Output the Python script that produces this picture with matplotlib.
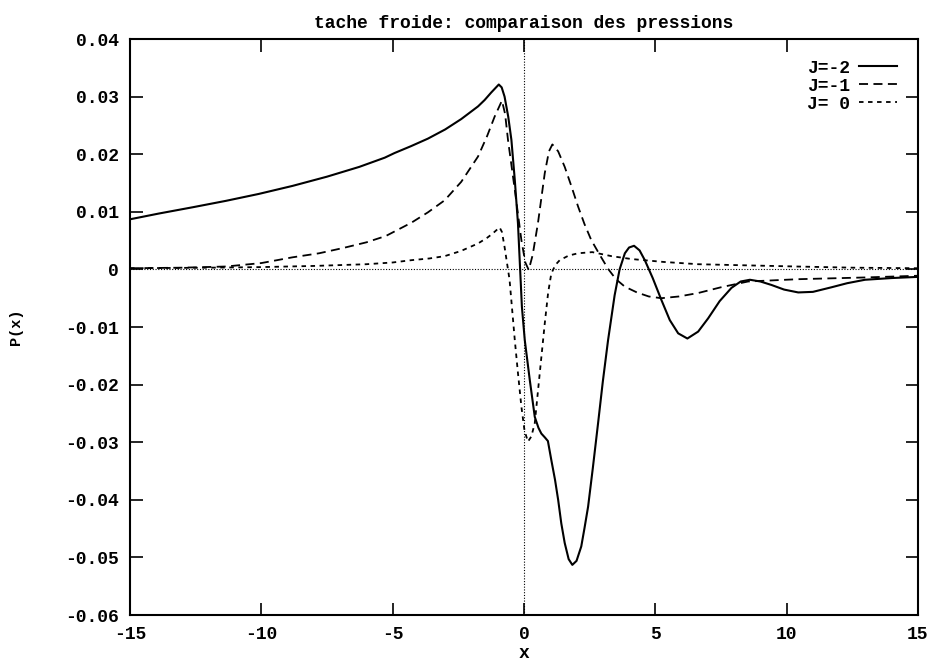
import matplotlib
matplotlib.use('Agg')
import matplotlib.pyplot as plt

# J=-2 (trait plein)
x_j2 = [-15, -13.9, -12.6, -11.35, -10.1, -8.81, -7.5, -6.27, -5.3, -4.93, -4.3, -3.66, -3.0, -2.39,
        -1.75, -1.50, -1.25, -0.96, -0.85, -0.74, -0.60, -0.48, -0.35, -0.23, -0.08, 0.03, 0.22,
        0.41, 0.55, 0.66, 0.80, 0.91, 1.04, 1.18, 1.30, 1.42, 1.55, 1.70, 1.84, 2.00, 2.18, 2.30,
        2.44, 2.62, 2.82, 3.00, 3.20, 3.45, 3.64, 3.84, 4.00, 4.19, 4.40, 4.60, 4.90, 5.23, 5.55,
        5.87, 6.22, 6.63, 7.01, 7.45, 7.90, 8.25, 8.60, 9.00, 9.42, 9.90, 10.44, 11.00, 11.71,
        12.30, 12.98, 14.0, 15]
y_j2 = [0.0087, 0.0097, 0.0108, 0.0119, 0.0131, 0.0145, 0.0161, 0.0178, 0.0194, 0.0202, 0.0214,
        0.0227, 0.0243, 0.0261, 0.0283, 0.0294, 0.0307, 0.0321, 0.0316, 0.0300, 0.0265, 0.0225,
        0.0155, 0.0080, -0.0065, -0.0123, -0.0192, -0.0256, -0.0275, -0.0285, -0.0292, -0.0298,
        -0.0331, -0.0365, -0.0400, -0.0441, -0.0475, -0.0503, -0.0513, -0.0506, -0.0481, -0.0450,
        -0.0412, -0.0345, -0.0267, -0.0195, -0.0123, -0.0045, 0.0000, 0.0028, 0.0038, 0.0041,
        0.0033, 0.0016, -0.0015, -0.0053, -0.0088, -0.0111, -0.0120, -0.0108, -0.0085, -0.0055,
        -0.0032, -0.0021, -0.0018, -0.0021, -0.0027, -0.0035, -0.0040, -0.0039, -0.0031, -0.0024,
        -0.0018, -0.0015, -0.0013]

# J=-1 (tirets)
x_j1 = [-15, -13, -11.35, -10, -8.81, -7.8, -6.9, -6.0, -5.26, -4.29, -3.66, -3.02, -2.39, -1.75,
        -1.40, -1.12, -0.84, -0.72, -0.61, -0.35, -0.10, 0.05, 0.18, 0.33, 0.53, 0.79, 0.95, 1.08,
        1.30, 1.55, 1.80, 2.06, 2.30, 2.56, 2.90, 3.20, 3.50, 3.84, 4.30, 4.75, 5.23, 5.90, 6.63,
        7.50, 8.53, 10.44, 12.98, 15]
y_j1 = [0.0002, 0.0003, 0.0005, 0.0011, 0.0021, 0.0028, 0.0037, 0.0047, 0.0058, 0.0081, 0.0099,
        0.0120, 0.0152, 0.0196, 0.0232, 0.0265, 0.0293, 0.0270, 0.0225, 0.0138, 0.0051, 0.0012,
        -0.0001, 0.0025, 0.0080, 0.0167, 0.0205, 0.0217, 0.0205, 0.0178, 0.0145, 0.0109, 0.0079,
        0.0051, 0.0024, 0.0001, -0.0017, -0.0030, -0.0040, -0.0047, -0.0050, -0.0047, -0.0041,
        -0.0031, -0.0021, -0.0017, -0.0014, -0.0011]

# J=0 (pointilles)
x_j0 = [-15, -12, -10, -8, -6, -5, -4.29, -3.6, -3.02, -2.4, -1.75, -1.4, -1.2, -0.93, -0.84,
        -0.74, -0.55, -0.35, -0.23, -0.10, 0.02, 0.15, 0.28, 0.41, 0.60, 0.79, 0.92, 1.04, 1.20,
        1.36, 1.70, 2.06, 2.60, 3.33, 4.09, 5.30, 6.63, 8.5, 10.4, 12.5, 15]
y_j0 = [0.0002, 0.0003, 0.0004, 0.0006, 0.0009, 0.0012, 0.0016, 0.0019, 0.0023, 0.0032, 0.0045,
        0.0055, 0.0062, 0.0073, 0.0065, 0.0039, -0.0018, -0.0123, -0.0180, -0.0238, -0.0280,
        -0.0299, -0.0290, -0.0267, -0.0180, -0.0094, -0.0040, -0.0007, 0.0008, 0.0016, 0.0024,
        0.0028, 0.0030, 0.0023, 0.0018, 0.0013, 0.0009, 0.0007, 0.0005, 0.0003, 0.0002]

xticks = [-15, -10, -5, 0, 5, 10, 15]
yticks = [0.04, 0.03, 0.02, 0.01, 0, -0.01, -0.02, -0.03, -0.04, -0.05, -0.06]
ylabels = ['0.04', '0.03', '0.02', '0.01', '0', '-0.01', '-0.02', '-0.03', '-0.04', '-0.05', '-0.06']

plt.rcParams['font.family'] = ['Liberation Mono', 'DejaVu Sans Mono']
plt.rcParams['font.size'] = 13
plt.rcParams['axes.unicode_minus'] = False

fig = plt.figure(figsize=(9.29, 6.6), dpi=100)
ax = fig.add_axes([130/929, 1 - 615/660, (918-130)/929, (615-39)/660])

# axes zero en pointilles
ax.axhline(0, color='black', lw=0.8, ls=(0, (1, 1.5)))
ax.axvline(0, color='black', lw=0.8, ls=(0, (1, 1.5)))

ax.plot(x_j2, y_j2, color='black', lw=1.5, label='J=-2')
ax.plot(x_j1, y_j1, color='black', lw=1.3, ls=(0, (5, 3)), label='J=-1')
ax.plot(x_j0, y_j0, color='black', lw=1.3, ls=(0, (2.5, 2.5)), label='J= 0')

ax.set_xlim(-15, 15)
ax.set_ylim(-0.06, 0.04)
ax.set_xticks(xticks)
ax.set_yticks(yticks)
ax.set_yticklabels(ylabels)
ax.tick_params(direction='in', length=9, width=1.2, top=True, right=True, pad=8)
for lab in ax.get_xticklabels() + ax.get_yticklabels():
    lab.set_fontweight('bold')
for s in ax.spines.values():
    s.set_linewidth(1.5)

ax.set_title('tache froide: comparaison des pressions', fontsize=13, pad=8, fontweight='bold')
ax.set_xlabel('x', labelpad=1, fontweight='bold')
ax.set_ylabel('P(x)', labelpad=30, fontweight='bold', fontsize=11)

ax.legend(loc='upper right', frameon=False, markerfirst=False, handlelength=2.1,
          handletextpad=0.5, borderaxespad=0.75, labelspacing=0.05,
          prop={'weight': 'bold', 'size': 13})

fig.savefig('out.png', dpi=100)
